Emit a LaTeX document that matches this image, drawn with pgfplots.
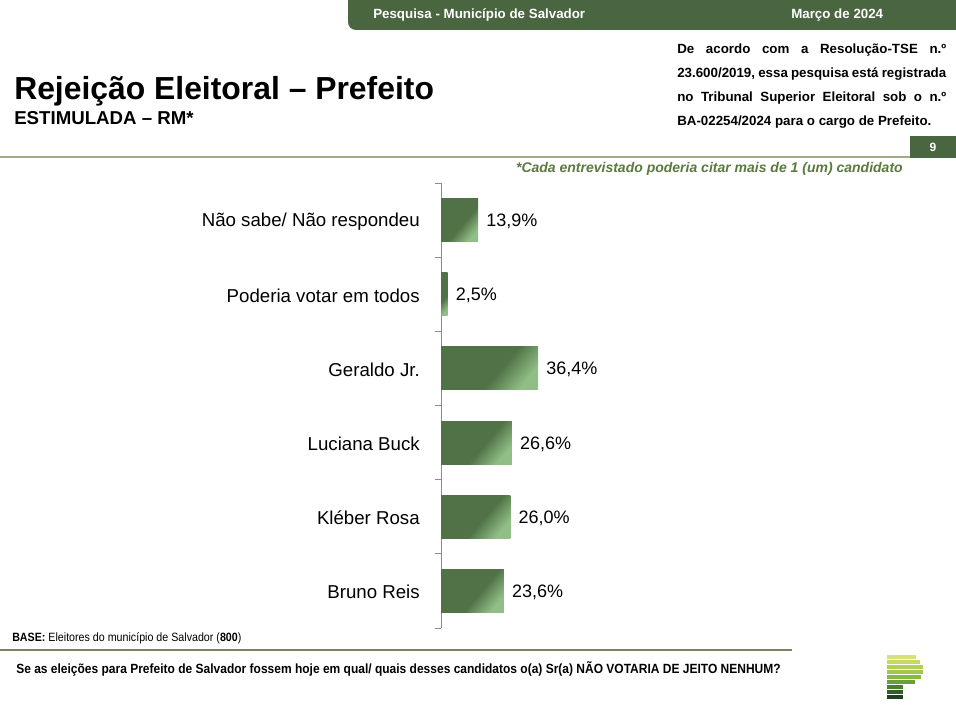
\documentclass[border=0pt]{standalone}
\usepackage{pgfplots}
\pgfplotsset{compat=1.18}
\usepackage{fontspec}
\setmainfont{Liberation Sans}
\definecolor{hdr}{RGB}{74,102,64}
\definecolor{barG}{RGB}{80,114,70}
\definecolor{barL}{RGB}{145,190,135}
\definecolor{olive}{RGB}{163,168,138}
\definecolor{olive2}{RGB}{128,128,96}
\definecolor{notegreen}{RGB}{90,122,62}
\definecolor{axgray}{RGB}{140,140,140}
\definecolor{lg1}{RGB}{214,226,120}
\definecolor{lg2}{RGB}{196,218,100}
\definecolor{lg3}{RGB}{178,208,85}
\definecolor{lg4}{RGB}{160,200,75}
\definecolor{lg5}{RGB}{135,185,65}
\definecolor{lg6}{RGB}{105,160,55}
\definecolor{lg7}{RGB}{75,125,50}
\definecolor{lg8}{RGB}{50,95,40}
\definecolor{lg9}{RGB}{30,65,30}
\pgfdeclarehorizontalshading{barshade}{100bp}{color(0bp)=(barG); color(25bp)=(barG); color(56bp)=(barG); color(75bp)=(barL); color(100bp)=(barL)}
\begin{document}
\begin{tikzpicture}[x=0.75pt,y=0.75pt]
\useasboundingbox (0,0) rectangle (956,711);
\fill[white] (0,0) rectangle (956,711);
\begin{scope}
\clip (0,0) rectangle (956,711);
\fill[hdr, rounded corners=6pt] (348,681) rectangle (990,740);
\end{scope}
\node[anchor=base west, inner sep=0, text=white, font=\bfseries\fontsize{10}{12}\selectfont] at (373,692) {Pesquisa - Município de Salvador};
\node[anchor=base west, inner sep=0, text=white, font=\bfseries\fontsize{10}{12}\selectfont] at (791,692) {Março de 2024};
% right block
\node[anchor=north west, inner sep=0, text width=201.75pt, align=justify, font=\bfseries\fontsize{10}{17.9}\selectfont] at (677,667) {De acordo com a Resolução-TSE n.º\linebreak 23.600/2019, essa pesquisa está registrada\linebreak no Tribunal Superior Eleitoral sob o n.º\linebreak BA-02254/2024 para o cargo de Prefeito.};
% title
\node[anchor=base west, inner sep=0, font=\bfseries\fontsize{23.9}{28}\selectfont] at (14,611) {Rejeição Eleitoral – Prefeito};
\node[anchor=base west, inner sep=0, font=\bfseries\fontsize{14}{16}\selectfont] at (14,586) {ESTIMULADA – RM*};
\draw[olive, line width=1.5pt] (0,553.5) -- (910,553.5);
\fill[hdr] (910,553) rectangle (956,575);
\node[text=white, font=\bfseries\fontsize{9}{10}\selectfont] at (933,564) {9};
\node[anchor=base east, inner sep=0, text=notegreen, font=\bfseries\itshape\fontsize{10.5}{12}\selectfont] at (903,538) {*Cada entrevistado poderia citar mais de 1 (um) candidato};
% chart
\begin{axis}[
  at={(330.75pt,62.25pt)}, anchor=south west,
  scale only axis, width=300pt, height=333.75pt,
  xmin=0, xmax=150, ymin=-0.5, ymax=5.5, y dir=reverse,
  hide x axis, axis y line*=left,
  axis line style={draw=axgray, line width=0.75pt},
  ytick={0,...,5},
  yticklabels={Não sabe/ Não respondeu, Poderia votar em todos, Geraldo Jr., Luciana Buck, Kléber Rosa, Bruno Reis},
  major tick length=0pt,
  yticklabel style={font=\fontsize{14}{16}\selectfont, inner sep=0pt, xshift=-15.75pt, yshift=-1pt, text=black},
  extra y ticks={-0.5,0.5,1.5,2.5,3.5,4.5,5.5}, extra y tick labels={},
  extra y tick style={major tick length=4.5pt, tick align=outside, tick style={draw=axgray, line width=0.75pt}},
  xbar, bar width=32.25pt, bar shift=0pt,
  /pgf/number format/assume math mode=true,
  nodes near coords={\pgfmathprintnumber[fixed,fixed zerofill,precision=1,use comma]{\pgfplotspointmeta}\%},
  nodes near coords align=horizontal,
  every node near coord/.append style={font=\fontsize{13.5}{16}\selectfont, inner sep=0pt, xshift=6pt, yshift=-1pt, text=black},
  clip=false,
  barsty/.style={draw=none, shade, shading=barshade, shading angle=-40, bar shift=0pt},
]
\addplot[barsty] coordinates {(13.9,0)};
\addplot[barsty] coordinates {(2.5,1)};
\addplot[barsty] coordinates {(36.4,2)};
\addplot[barsty] coordinates {(26.6,3)};
\addplot[barsty] coordinates {(26.0,4)};
\addplot[barsty] coordinates {(23.6,5)};
\end{axis}
% bottom
\node[anchor=base west, inner sep=0, font=\fontsize{9}{10}\selectfont] at (12,70) {\scalebox{0.89}[1]{\textbf{BASE:} Eleitores do município de Salvador (\textbf{800})}};
\draw[olive2, line width=1pt] (0,61) -- (792,61);
\node[anchor=base west, inner sep=0, font=\bfseries\fontsize{10}{11}\selectfont] at (16,38) {\scalebox{0.9}[1]{Se as eleições para Prefeito de Salvador fossem hoje em qual/ quais desses candidatos o(a) Sr(a) NÃO VOTARIA DE JEITO NENHUM?}};
% logo
\fill[lg1] (887,56) rectangle (916,52.5);
\fill[lg2] (887,51) rectangle (920,47.5);
\fill[lg3] (887,46) rectangle (923,42.5);
\fill[lg4] (887,41) rectangle (923,37.5);
\fill[lg5] (887,36) rectangle (921,32.5);
\fill[lg6] (887,31) rectangle (915,27.5);
\fill[lg7] (887,26) rectangle (903,22.5);
\fill[lg8] (887,21) rectangle (903,17.5);
\fill[lg9] (887,16) rectangle (903,12.5);
\end{tikzpicture}
\end{document}
